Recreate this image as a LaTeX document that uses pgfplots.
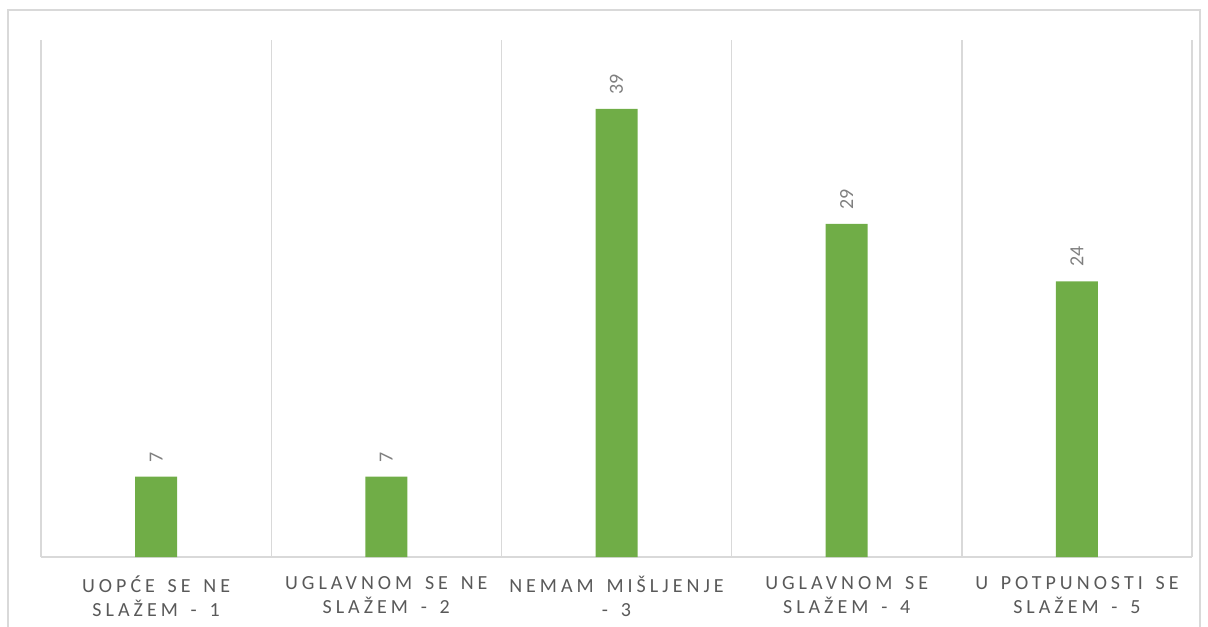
\documentclass[border=0pt]{standalone}
\usepackage{fontspec}
\setmainfont{Carlito}
\newfontfamily\spaced{Carlito}[LetterSpace=20, WordSpace=1.5]
\usepackage{pgfplots}
\pgfplotsset{compat=1.18}
\definecolor{bargreen}{HTML}{70AD47}
\definecolor{gridgray}{HTML}{D9D9D9}
\definecolor{txtgray}{HTML}{595959}
\definecolor{lblgray}{HTML}{7F7F7F}
\begin{document}
\begin{tikzpicture}
\useasboundingbox (-20.5pt,-34.5pt) rectangle (583.5pt,278.5pt);
\draw[gridgray, line width=0.8pt] (-16.5pt,-40pt) -- (-16.5pt,273.5pt) -- (579.5pt,273.5pt) -- (579.5pt,-40pt);
\begin{axis}[
  at={(0pt,0pt)}, anchor=south west,
  scale only axis,
  width=575.5pt, height=258.5pt,
  xmin=0.5, xmax=5.5, ymin=0, ymax=45,
  axis y line=none,
  axis x line*=bottom,
  x axis line style={gridgray, line width=0.7pt, -},
  xtick={1,2,3,4,5},
  xticklabels={{UOPĆE SE NE\\SLAŽEM - 1},{UGLAVNOM SE NE\\SLAŽEM - 2},{NEMAM MIŠLJENJE\\- 3},{UGLAVNOM SE\\SLAŽEM - 4},{U POTPUNOSTI SE\\SLAŽEM - 5}},
  xticklabel style={align=center, font=\spaced\fontsize{10pt}{12pt}\selectfont, text=txtgray, yshift=-6pt},
  major tick length=0pt,
  minor xtick={0.5,1.5,2.5,3.5,4.5,5.5},
  minor tick length=0pt,
  xminorgrids,
  minor grid style={gridgray, line width=0.7pt},
  clip=false,
  /pgf/number format/assume math mode=true,
]
\addplot[ybar, bar width=21pt, fill=bargreen, draw=none,
  nodes near coords,
  every node near coord/.append style={rotate=90, anchor=west, inner xsep=7pt, font=\fontsize{10pt}{11pt}\selectfont, text=lblgray}]
  coordinates {(1,7) (2,7) (3,39) (4,29) (5,24)};
\end{axis}
\end{tikzpicture}
\end{document}
